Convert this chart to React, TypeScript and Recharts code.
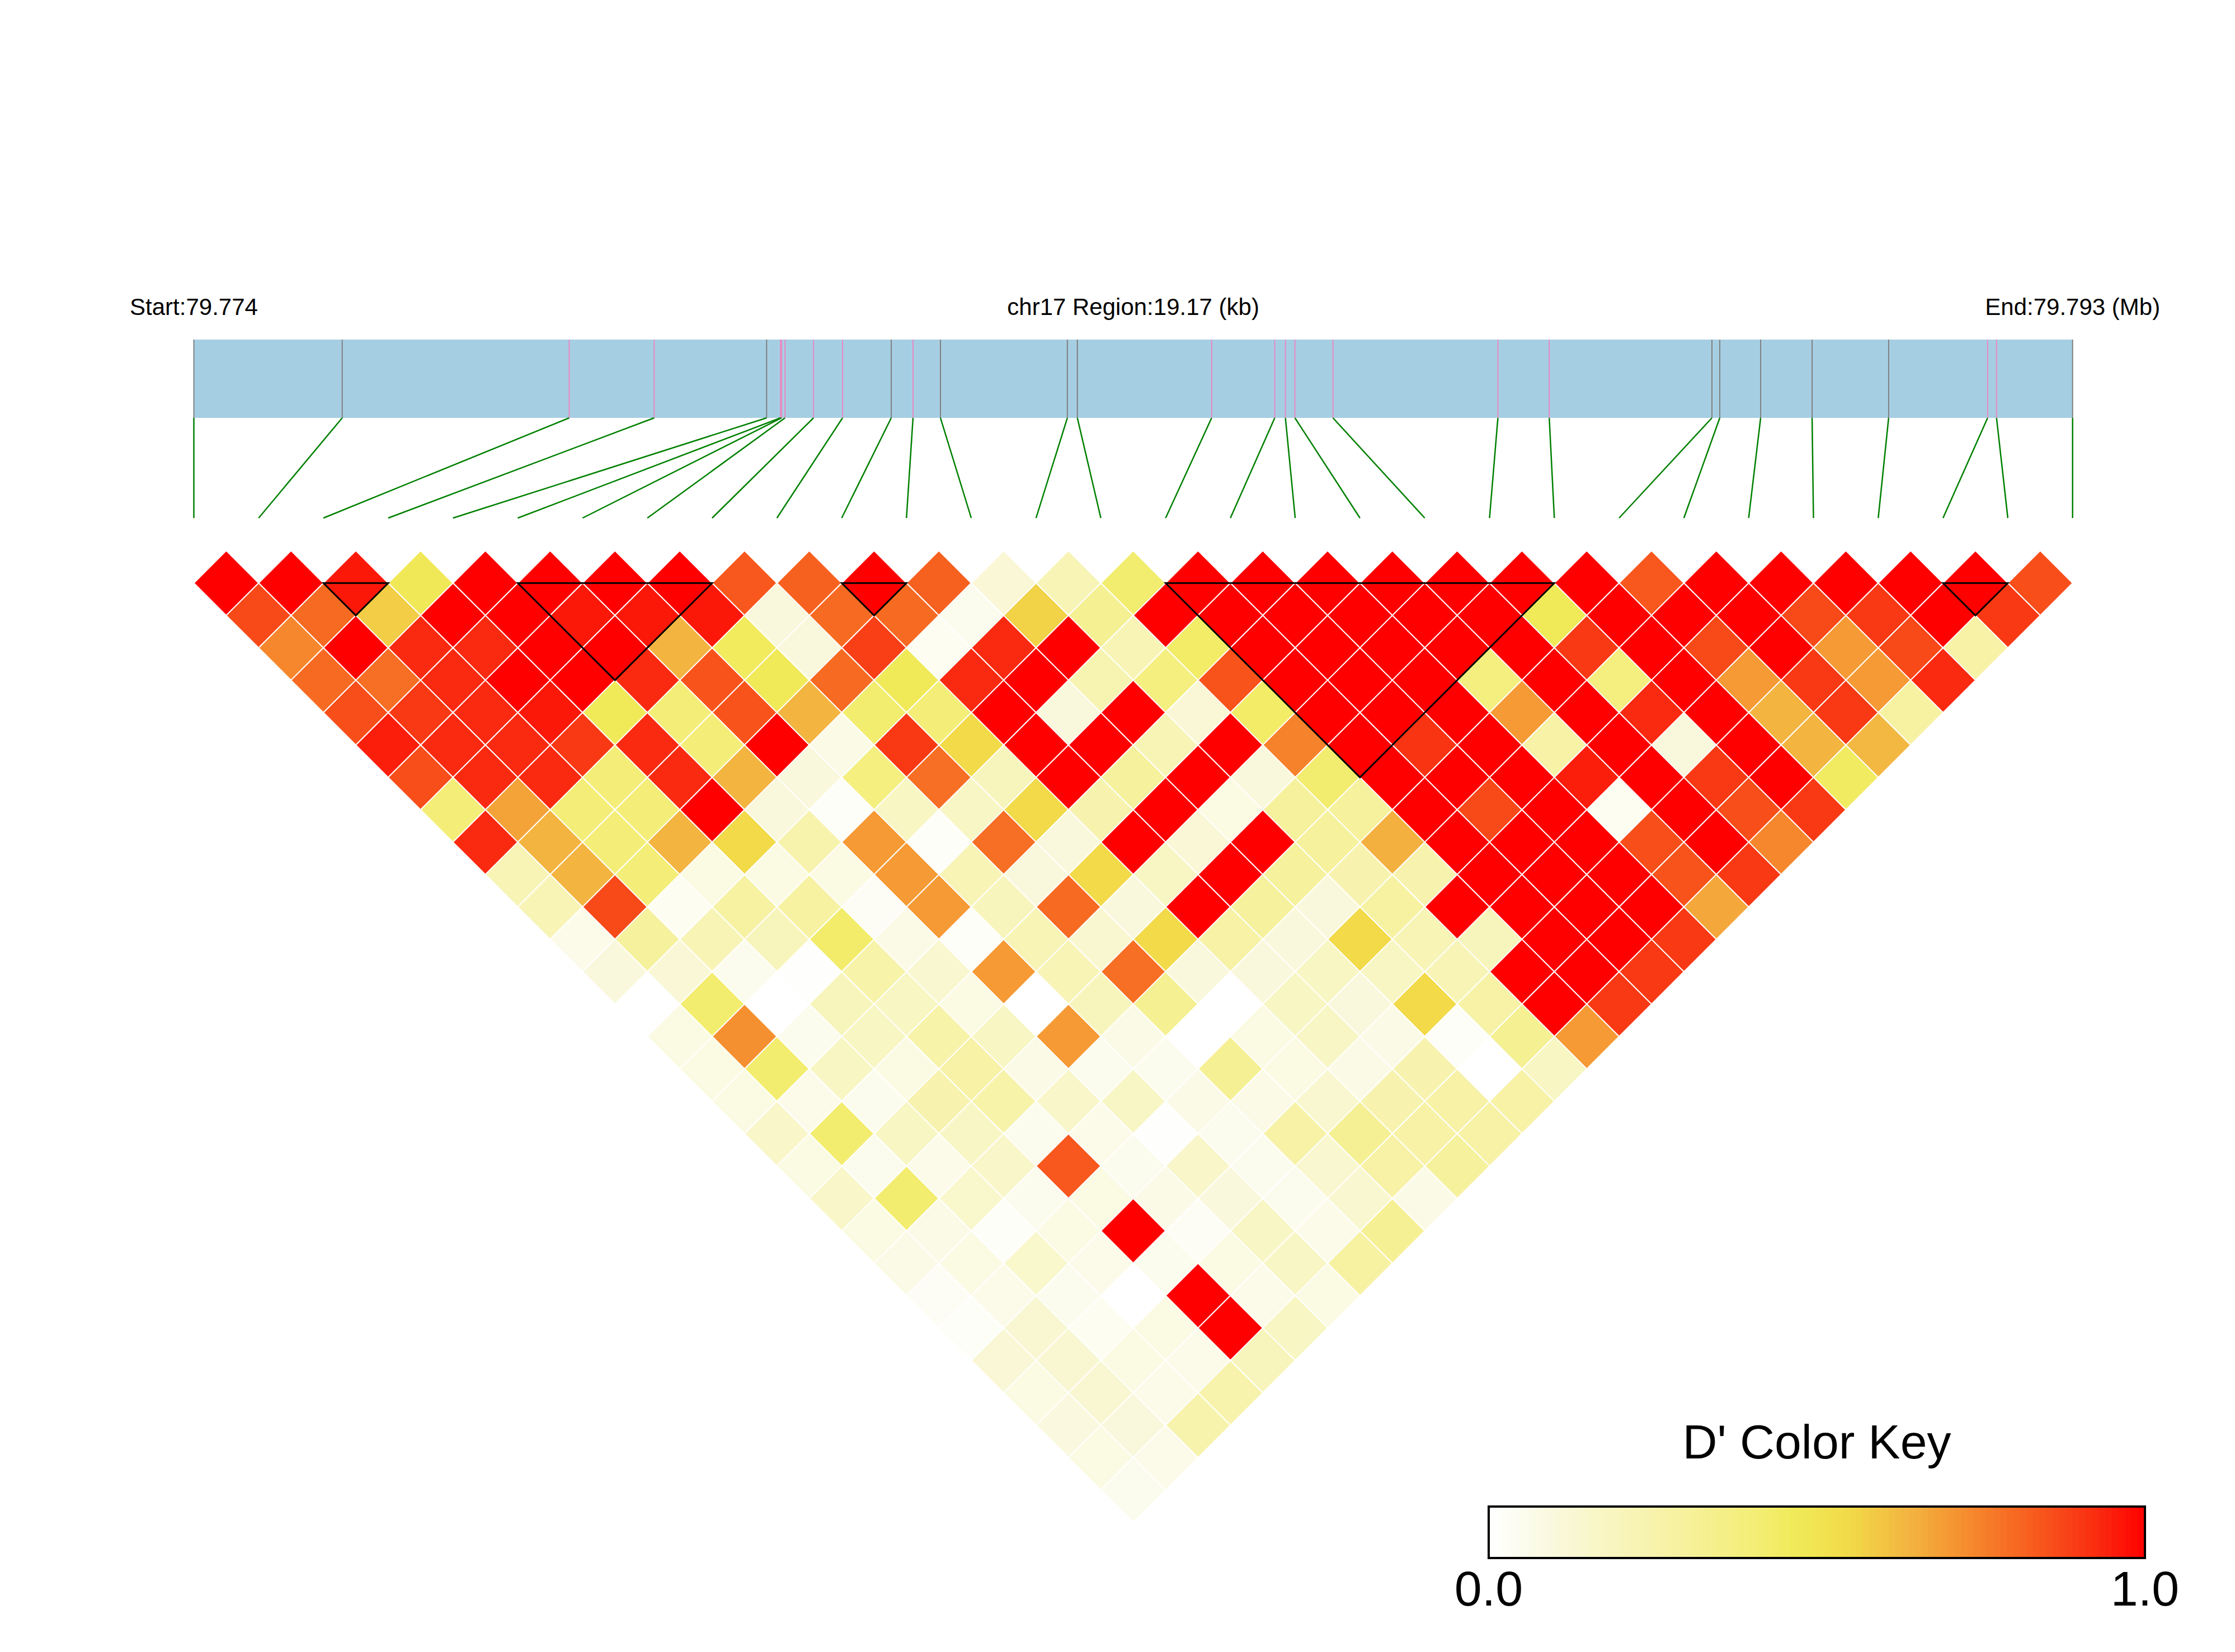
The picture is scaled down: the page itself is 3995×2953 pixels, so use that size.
import React from 'react';
import { ScatterChart, Scatter, XAxis, YAxis, ReferenceArea, ReferenceLine, ReferenceDot } from 'recharts';

const W = 3995;
const H = 2953;
const UNIT = 115.8; // px between neighbouring SNPs in the LD triangle
const X0 = 346.5; // px of the first SNP
const px2x = (px: number) => (px - X0) / UNIT;
const px2y = (py: number) => -py / UNIT;

// region
const regionLabels = ['Start:79.774', 'chr17 Region:19.17 (kb)', 'End:79.793 (Mb)'];
const regionKb = 19.17;

// SNP positions inside the region (kb from start) and marker kind
const snpPosKb = [
  0, 1.514, 3.83, 4.697, 5.844, 5.986, 5.997, 6.032, 6.323, 6.619,
  7.116, 7.338, 7.618, 8.913, 9.015, 10.385, 11.029, 11.138, 11.235, 11.623,
  13.306, 13.83, 15.49, 15.57, 15.987, 16.512, 17.293, 18.303, 18.394, 19.17,
];
const snpKind = [
  'g', 'g', 'p', 'p', 'g', 'p', 'p', 'p', 'p', 'p',
  'g', 'p', 'g', 'g', 'g', 'p', 'p', 'p', 'p', 'p',
  'p', 'p', 'g', 'g', 'g', 'g', 'g', 'p', 'p', 'g',
];

// D' values, one row per SNP distance (row k = pairs (i, i+k))
const dprimeByDistance: number[][] = [
  [1, 1, 0.96, 0.48, 1, 1, 1, 1, 0.84, 0.82, 1, 0.82, 0.12, 0.22, 0.42, 1, 1, 1, 1, 1, 1, 1, 0.84, 1, 1, 1, 1, 1, 0.86],
  [0.87, 0.8, 0.58, 1, 1, 0.96, 0.96, 0.96, 0.1, 0.8, 0.8, 0.05, 0.57, 0.33, 1, 1, 1, 1, 1, 1, 0.47, 1, 1, 1, 0.87, 0.9, 1, 0.9],
  [0.74, 1, 0.93, 0.93, 1, 1, 0.64, 0.46, 0.1, 0.89, 0.04, 0.93, 1, 0.22, 0.44, 1, 1, 1, 1, 1, 0.9, 1, 0.87, 1, 0.7, 0.87, 0.27],
  [0.8, 0.79, 0.93, 1, 1, 0.93, 0.85, 0.47, 0.8, 0.47, 0.93, 1, 0.23, 0.38, 0.85, 1, 1, 1, 0.38, 1, 0.38, 1, 0.7, 0.9, 0.7, 0.93],
  [0.86, 0.9, 0.93, 0.96, 0.47, 0.4, 0.85, 0.64, 0.42, 0.4, 1, 0.1, 1, 0.12, 0.44, 1, 1, 1, 0.7, 1, 0.93, 1, 0.64, 0.9, 0.28],
  [0.95, 0.93, 0.93, 0.9, 0.93, 0.4, 1, 0.07, 0.9, 0.55, 1, 1, 0.22, 1, 0.75, 1, 0.91, 1, 0.27, 1, 0.1, 1, 0.64, 0.63],
  [0.86, 0.93, 0.93, 0.4, 0.93, 0.64, 0.1, 0.38, 0.79, 0.2, 1, 0.3, 1, 0.1, 0.42, 1, 1, 1, 0.95, 1, 0.9, 1, 0.45],
  [0.4, 0.68, 0.4, 0.4, 1, 0.1, 0.02, 0.18, 0.17, 0.55, 0.24, 1, 0.08, 0.3, 0.3, 1, 0.87, 1, 0.04, 1, 0.86, 0.9],
  [0.93, 0.64, 0.4, 0.64, 0.55, 0.25, 0.7, 0.02, 0.79, 0.1, 1, 0.12, 1, 0.3, 0.65, 1, 1, 1, 0.86, 1, 0.74],
  [0.22, 0.64, 0.4, 0.08, 0.08, 0.08, 0.7, 0.22, 0.1, 0.55, 0.18, 1, 0.3, 0.24, 0.24, 1, 1, 1, 0.85, 0.9],
  [0.22, 0.87, 0.04, 0.28, 0.28, 0.03, 0.7, 0.2, 0.8, 0.1, 1, 0.3, 0.1, 0.28, 1, 1, 1, 1, 0.67],
  [0.06, 0.3, 0.22, 0.2, 0.43, 0.07, 0.02, 0.22, 0.14, 0.55, 0.27, 0.1, 0.55, 0.22, 0.2, 1, 1, 0.9],
  [0.1, 0.12, 0.05, 0.01, 0.26, 0.14, 0.7, 0.22, 0.79, 0.1, 0.1, 0.18, 0.18, 0.22, 1, 1, 0.9],
  [0, 0.42, 0, 0.2, 0.18, 0.08, 0, 0.2, 0.33, 0, 0.18, 0.1, 0.55, 0.27, 1, 0.9],
  [0.08, 0.72, 0.05, 0.18, 0.26, 0.18, 0.7, 0.07, 0, 0.08, 0.17, 0.07, 0.02, 0.33, 0.7],
  [0.08, 0.42, 0.18, 0.08, 0.27, 0.07, 0.05, 0.05, 0.32, 0.08, 0.07, 0.24, 0, 0.18],
  [0.08, 0.06, 0.05, 0.24, 0.26, 0.16, 0.17, 0.07, 0.07, 0.14, 0.24, 0.27, 0.27],
  [0.16, 0.42, 0.18, 0.17, 0.05, 0.06, 0.01, 0.05, 0.27, 0.32, 0.27, 0.27],
  [0.08, 0.05, 0.06, 0.16, 0.84, 0.05, 0.16, 0.05, 0.14, 0.27, 0.3],
  [0.16, 0.42, 0.15, 0.05, 0.08, 0.07, 0.1, 0.05, 0.14, 0.07],
  [0.08, 0.07, 0.02, 0.08, 1, 0.03, 0.17, 0.06, 0.32],
  [0.07, 0.08, 0.15, 0.06, 0.05, 0.08, 0.17, 0.28],
  [0.03, 0.06, 0.05, 0, 1, 0.06, 0.08],
  [0.02, 0.13, 0.04, 0.08, 1, 0.18],
  [0.12, 0.13, 0.08, 0.06, 0.2],
  [0.08, 0.13, 0.06, 0.25],
  [0.09, 0.1, 0.25],
  [0.08, 0.06],
  [0.05],
];

// haplotype blocks (first SNP, last SNP)
const ldBlocks = [[2, 3], [5, 8], [10, 11], [15, 21], [27, 28]];

const keyTicks = ['0.0', '1.0'];

// colour ramp white -> yellow -> red
const colorStops: [number, string][] = [
  [0, '#FFFFFF'], [0.05, '#FCFCEE'], [0.1, '#FAF8DC'], [0.2, '#F8F5BC'], [0.3, '#F6F19C'],
  [0.4, '#F4EE78'], [0.47, '#F0EA58'], [0.55, '#F2DA48'], [0.64, '#F3B440'], [0.7, '#F59A34'],
  [0.8, '#F76A22'], [0.86, '#F84E1A'], [0.93, '#FA2A10'], [1, '#FF0000'],
];
const hex = (c: string) => [1, 3, 5].map((k) => parseInt(c.slice(k, k + 2), 16));
function dColor(v: number) {
  for (let k = 1; k < colorStops.length; k++) {
    const [v1, c1] = colorStops[k];
    if (v <= v1) {
      const [v0, c0] = colorStops[k - 1];
      const t = (v - v0) / (v1 - v0);
      const a = hex(c0), b = hex(c1);
      const m = a.map((q, j) => Math.round(q + (b[j] - q) * t));
      return `rgb(${m[0]},${m[1]},${m[2]})`;
    }
  }
  return '#FF0000';
}

const topRowY = -9;

const cells = dprimeByDistance.flatMap((row, r) =>
  row.map((d, i) => ({ x: i + (r + 1) / 2, y: topRowY - r / 2, d }))
);

// one point per block, at the middle of its top edge
const blockMarks = ldBlocks.map(([a, b]) => ({ x: (a + b) / 2, y: topRowY, span: b - a }));

const HALF = UNIT / 2;
const renderDiamond = (props: any) => {
  const { cx, cy, payload } = props;
  return (
    <polygon
      points={`${cx},${cy - HALF} ${cx + HALF},${cy} ${cx},${cy + HALF} ${cx - HALF},${cy}`}
      fill={dColor(payload.d)}
      stroke="#FFFFFF"
      strokeWidth={2}
    />
  );
};

const renderBlock = (props: any) => {
  const { cx, cy, payload } = props;
  const h = (payload.span * UNIT) / 2;
  return (
    <polygon
      points={`${cx - h},${cy} ${cx + h},${cy} ${cx},${cy + h}`}
      fill="none"
      stroke="#000000"
      strokeWidth={3}
    />
  );
};

const kbToX = (kb: number) => (kb / regionKb) * (snpPosKb.length - 1);

const barTop = px2y(607);
const barBottom = px2y(747);
const linkBottom = px2y(926);

const keyX0 = px2x(2661);
const keyX1 = px2x(3834);
const keyY0 = px2y(2693);
const keyY1 = px2y(2785);
const keySteps = Array.from({ length: 100 }, (_, k) => k);

export default function App() {
  return (
    <div
      style={{
        position: 'absolute', left: 0, top: 0, width: W, height: H, background: '#fff',
        fontFamily: '"Liberation Sans", Arial, sans-serif',
      }}
    >
      <ScatterChart width={W} height={H} margin={{ top: 0, right: 0, bottom: 0, left: 0 }}>
        <XAxis type="number" dataKey="x" domain={[px2x(0), px2x(W)]} allowDataOverflow hide />
        <YAxis type="number" dataKey="y" domain={[px2y(H), 0]} allowDataOverflow hide />

        <ReferenceArea x1={0} x2={snpPosKb.length - 1} y1={barBottom} y2={barTop}
          fill="#A6CEE3" fillOpacity={1} stroke="none" />
        {snpPosKb.map((kb, i) => (
          <ReferenceLine key={`t${i}`} segment={[{ x: kbToX(kb), y: barTop }, { x: kbToX(kb), y: barBottom }]}
            stroke={snpKind[i] === 'p' ? '#E78AC3' : '#808080'} strokeWidth={2} />
        ))}
        {snpPosKb.map((kb, i) => (
          <ReferenceLine key={`g${i}`} segment={[{ x: kbToX(kb), y: barBottom }, { x: i, y: linkBottom }]}
            stroke="#008000" strokeWidth={2.5} />
        ))}

        {regionLabels.map((t, k) => (
          <ReferenceDot key={`r${k}`} x={k * (snpPosKb.length - 1) / 2} y={px2y(548)} r={1}
            fill="none" stroke="none"
            label={{ value: t, position: 'center', fontSize: 42, fill: '#000' }} />
        ))}

        <Scatter data={cells} isAnimationActive={false} shape={renderDiamond} />
        <Scatter data={blockMarks} isAnimationActive={false} shape={renderBlock} />

        <ReferenceDot x={(keyX0 + keyX1) / 2} y={px2y(2576)} r={1} fill="none" stroke="none"
          label={{ value: "D' Color Key", position: 'center', fontSize: 86, fill: '#000' }} />
        {keySteps.map((k) => {
          const w = (keyX1 - keyX0) / keySteps.length;
          const c = dColor((k + 0.5) / keySteps.length);
          return (
            <ReferenceArea key={`k${k}`} x1={keyX0 + k * w} x2={keyX0 + (k + 1) * w} y1={keyY1} y2={keyY0}
              fill={c} fillOpacity={1} stroke={c} strokeWidth={1} />
          );
        })}
        <ReferenceArea x1={keyX0} x2={keyX1} y1={keyY1} y2={keyY0} fill="none" stroke="#000" strokeWidth={4} />
        {keyTicks.map((t, k) => (
          <ReferenceDot key={`kt${k}`} x={k === 0 ? keyX0 : keyX1} y={px2y(2839)} r={1} fill="none" stroke="none"
            label={{ value: t, position: 'center', fontSize: 88, fill: '#000' }} />
        ))}
      </ScatterChart>
    </div>
  );
}
